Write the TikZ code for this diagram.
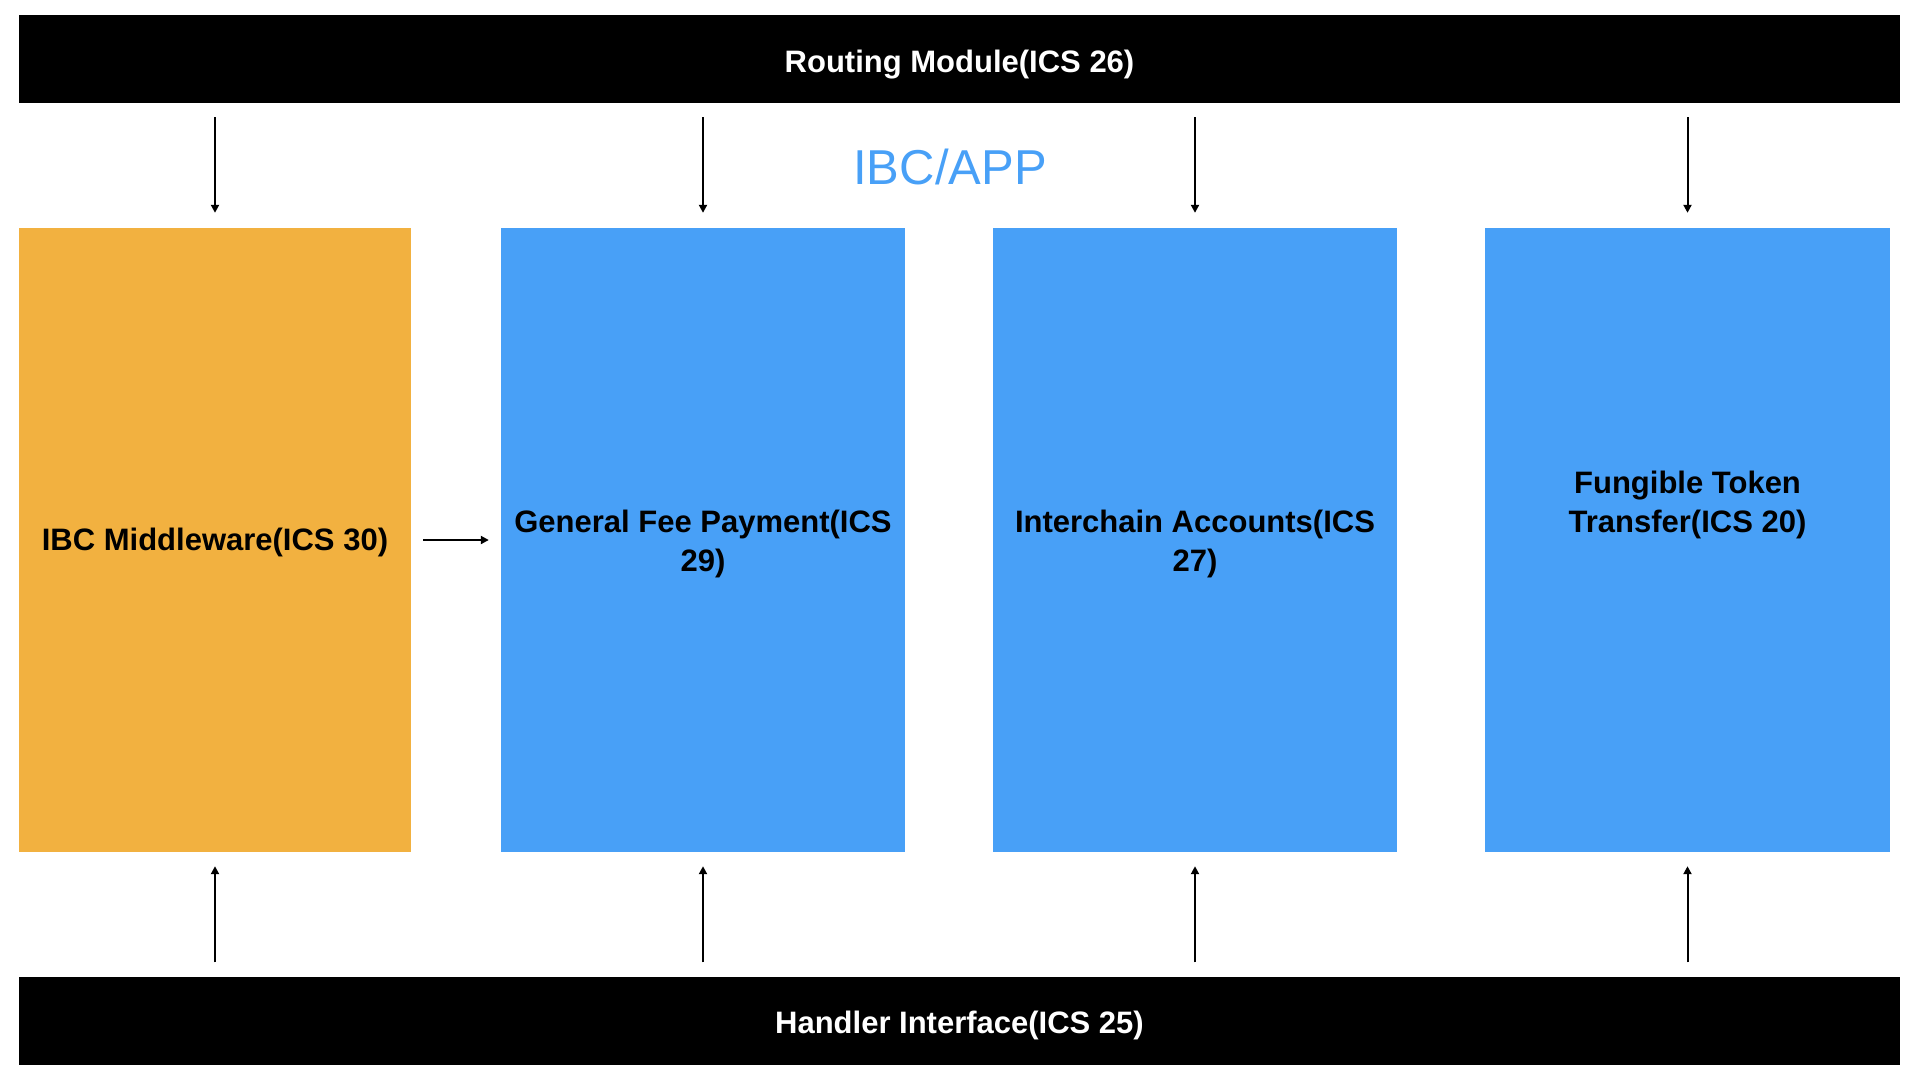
\documentclass[tikz,border=0pt]{standalone}
\usepackage{fontspec}
\setmainfont{Liberation Sans}
\usepackage{tikz}
\usetikzlibrary{arrows.meta,positioning,calc}
\definecolor{mwOrange}{HTML}{F2B140}
\definecolor{appBlue}{HTML}{48A0F7}
\tikzset{
  bar/.style={fill=black,text=white,minimum width=1881pt,minimum height=88pt,inner sep=0pt,
    text height=26pt,text depth=0pt,font=\fontsize{31}{39}\selectfont\bfseries},
  module/.style={minimum width=404pt,minimum height=624pt,inner sep=0pt},
  modtext/.style={align=center,inner sep=0pt,yshift=-4pt,font=\fontsize{31}{39}\selectfont\bfseries},
  flow/.style={line width=2pt,-{Triangle[length=8pt,width=8pt]}}
}
\begin{document}
\begin{tikzpicture}[x=1pt,y=-1pt]
\useasboundingbox (0,0) rectangle (1920,1080);
\node[bar] (routing) at (959.5,59) {Routing Module(ICS 26)};
\node[bar] (handler) at (959.5,1020.5) {Handler Interface(ICS 25)};
\node[text=appBlue,font=\fontsize{49}{56}\selectfont] (app) at (950,166.5) {IBC/APP};
\node[module,fill=mwOrange,minimum width=392pt,
  label={[modtext,yshift=1.5pt]center:IBC Middleware(ICS 30)}] (mw) at (215,540) {};
\node[module,fill=appBlue,
  label={[modtext]center:General Fee Payment(ICS\\29)}] (fee) at (703,540) {};
\node[module,fill=appBlue,
  label={[modtext]center:Interchain Accounts(ICS\\27)}] (ica) at (1195,540) {};
\node[module,fill=appBlue,minimum width=405pt,
  label={[modtext,yshift=39.5pt]center:Fungible Token\\Transfer(ICS 20)}] (ftt) at (1687.5,540) {};
\foreach \m in {mw,fee,ica,ftt} {
  \draw[flow,shorten <=14pt,shorten >=15pt] (\m.north |- routing.south) -- (\m.north);
  \draw[flow,shorten <=14pt,shorten >=14pt] (\m.south |- handler.north) -- (\m.south);
}
\draw[flow,shorten <=12pt,shorten >=12pt] (mw.east) -- (fee.west);
\end{tikzpicture}
\end{document}
